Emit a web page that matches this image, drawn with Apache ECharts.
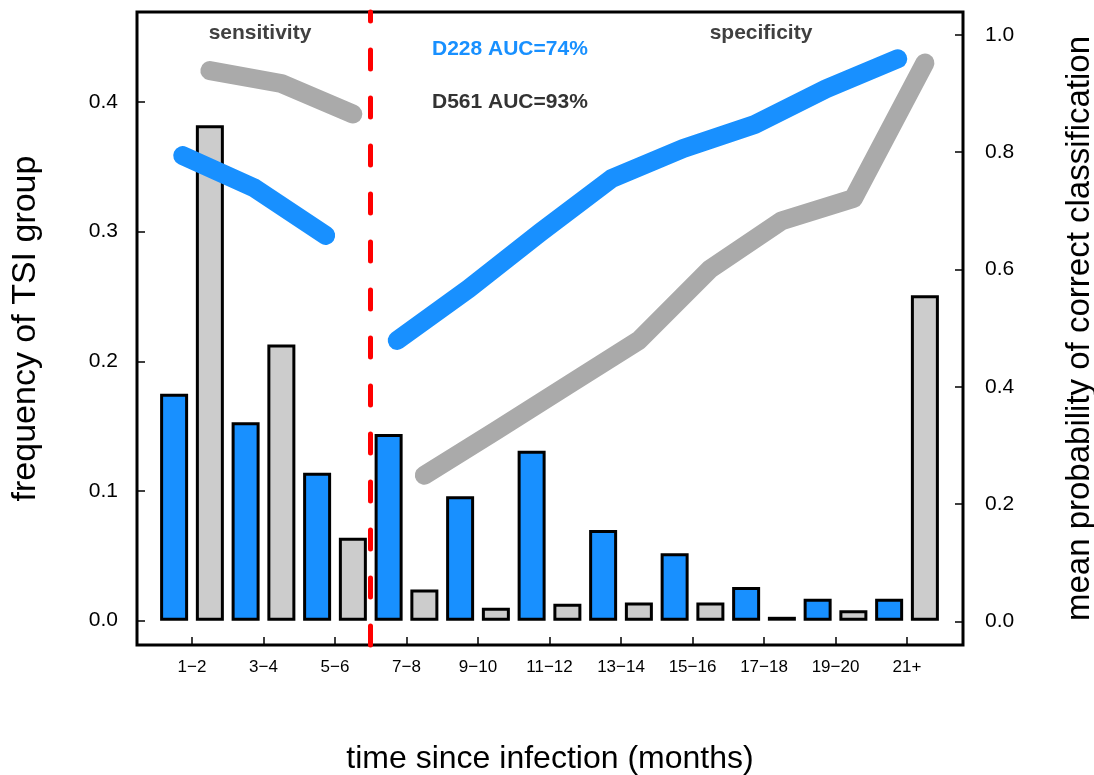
<!DOCTYPE html>
<html><head><meta charset="utf-8">
<script src="https://cdn.jsdelivr.net/npm/echarts@6/dist/echarts.min.js"></script>
<style>html,body{margin:0;padding:0;background:#fff}#c{width:1094px;height:775px}</style>
</head><body><div id="c"></div>
<script>
// ---- data ----
const categories = ['1\u22122','3\u22124','5\u22126','7\u22128','9\u221210','11\u221212','13\u221214','15\u221216','17\u221218','19\u221220','21+'];
const freqD228 = [0.175,0.153,0.114,0.144,0.096,0.131,0.070,0.052,0.026,0.017,0.017];
const freqD561 = [0.382,0.213,0.064,0.024,0.010,0.013,0.014,0.014,0.003,0.008,0.251];
const probD228 = [0.794,0.739,0.658,0.479,0.567,0.663,0.755,0.806,0.847,0.908,0.959];
const probD561 = [0.939,0.917,0.865,0.249,0.325,0.402,0.479,0.601,0.683,0.721,0.952];
const leftTicks = [0,0.1,0.2,0.3,0.4];
const rightTicks = [0,0.2,0.4,0.6,0.8,1.0];
const nSens = 3; // first groups belong to sensitivity, rest to specificity

const BLUE = '#1890FF', GREYBAR = '#CCCCCC', GREYLINE = '#AAAAAA';
const FONT = '"Liberation Sans", Arial, Helvetica, sans-serif';

const barData = [];
categories.forEach((c, i) => {
  barData.push({value: [i - 0.25, freqD228[i]], itemStyle: {color: BLUE}});
  barData.push({value: [i + 0.25, freqD561[i]], itemStyle: {color: GREYBAR}});
});
const pts = (arr, start, off) => arr.map((v, j) => [start + j + off, v]);
const blueOff = -0.13, greyOff = 0.25;

const lineStyleBase = {width: 19, cap: 'round', join: 'round'};
function lineSeries(name, data, color) {
  return {
    type: 'line', name, data, xAxisIndex: 0, yAxisIndex: 1, symbol: 'none', z: 3,
    lineStyle: Object.assign({color}, lineStyleBase), silent: true
  };
}
const tickStyle = {show: true, inside: true, length: 8, lineStyle: {color: '#000', width: 1.5}};

const chart = echarts.init(document.getElementById('c'), null, {renderer: 'canvas'});
chart.setOption({
  animation: false,
  textStyle: {fontFamily: FONT},
  grid: {left: 137, right: 131, top: 12, bottom: 130, outerBoundsMode: 'none', containLabel: false,
         show: true, borderColor: '#000', borderWidth: 3, backgroundColor: 'transparent'},
  xAxis: {
    type: 'value', min: -0.769, max: 10.783,
    name: 'time since infection (months)', nameLocation: 'middle', nameGap: 98,
    nameTextStyle: {fontSize: 32, color: '#000', fontFamily: FONT},
    axisLine: {show: false, onZero: false}, splitLine: {show: false},
    axisTick: Object.assign({customValues: categories.map((c, i) => i)}, tickStyle),
    axisLabel: {customValues: categories.map((c, i) => i), formatter: v => categories[Math.round(v)], fontSize: 17, color: '#000', margin: 14, fontFamily: FONT}
  },
  yAxis: [{
    type: 'value', min: -0.01874, max: 0.4693, position: 'left',
    name: 'frequency of TSI group', nameLocation: 'middle', nameGap: 94,
    nameTextStyle: {fontSize: 34, color: '#000', fontFamily: FONT},
    axisLine: {show: false, onZero: false}, splitLine: {show: false},
    axisTick: Object.assign({customValues: leftTicks}, tickStyle),
    axisLabel: {customValues: leftTicks, formatter: v => v.toFixed(1), fontSize: 21, color: '#000', margin: 19, fontFamily: FONT}
  }, {
    type: 'value', min: -0.0404, max: 1.0389, position: 'right',
    name: 'mean probability of correct classification', nameLocation: 'middle', nameGap: 100,
    nameTextStyle: {fontSize: 33, color: '#000', fontFamily: FONT},
    axisLine: {show: false, onZero: false}, splitLine: {show: false},
    axisTick: Object.assign({customValues: rightTicks}, tickStyle),
    axisLabel: {customValues: rightTicks, formatter: v => v.toFixed(1), fontSize: 21, color: '#000', margin: 22, fontFamily: FONT}
  }],
  series: [
    {
      type: 'bar', name: 'frequency', data: barData, xAxisIndex: 0, yAxisIndex: 0,
      barWidth: 28, z: 2, silent: true,
      itemStyle: {borderColor: '#000', borderWidth: 3}
    },
    lineSeries('D228 sensitivity', pts(probD228.slice(0, nSens), 0, blueOff), BLUE),
    lineSeries('D228 specificity', pts(probD228.slice(nSens), nSens, blueOff), BLUE),
    lineSeries('D561 specificity', pts(probD561.slice(nSens), nSens, greyOff), GREYLINE),
    Object.assign(lineSeries('D561 sensitivity', pts(probD561.slice(0, nSens), 0, greyOff), GREYLINE), {
      markLine: {
        silent: true, symbol: 'none', label: {show: false},
        lineStyle: {color: '#FF0000', width: 5, type: [19, 29], cap: 'round'},
        data: [{xAxis: nSens - 0.5}]
      }
    })
  ],
  graphic: [
    {type: 'text', x: 260, y: 33, z: 10, style: {text: 'sensitivity', font: 'bold 21px ' + FONT, fill: '#404040', textAlign: 'center', textVerticalAlign: 'middle'}},
    {type: 'text', x: 761, y: 33, z: 10, style: {text: 'specificity', font: 'bold 21px ' + FONT, fill: '#404040', textAlign: 'center', textVerticalAlign: 'middle'}},
    {type: 'text', x: 432, y: 49, z: 10, style: {text: 'D228 AUC=74%', font: 'bold 21px ' + FONT, fill: BLUE, textAlign: 'left', textVerticalAlign: 'middle'}},
    {type: 'text', x: 432, y: 102, z: 10, style: {text: 'D561 AUC=93%', font: 'bold 21px ' + FONT, fill: '#333333', textAlign: 'left', textVerticalAlign: 'middle'}}
  ]
});
</script></body></html>
